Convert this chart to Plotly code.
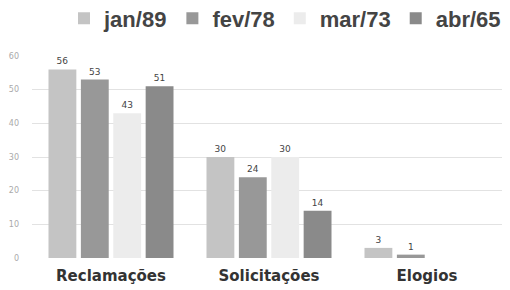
import plotly.graph_objects as go

categories = ["Reclamações", "Solicitações", "Elogios"]
series_names = ["jan/89", "fev/78", "mar/73", "abr/65"]
jan = [56, 30, 3]
fev = [53, 24, 1]
mar = [43, 30, 0]
abr = [51, 14, 0]
y_ticks = [0, 10, 20, 30, 40, 50, 60]

colors = ["#c4c4c4", "#989898", "#ececec", "#8a8a8a"]

fig = go.Figure()
for name, vals, col in zip(series_names, [jan, fev, mar, abr], colors):
    fig.add_trace(go.Bar(
        x=categories, y=vals, name=name,
        marker=dict(color=col, line=dict(width=0)),
        text=[str(v) if v else "" for v in vals],
        textposition="outside", cliponaxis=False,
        textfont=dict(size=9, color="#444", family="DejaVu Sans"),
    ))

# page body has an 8px margin, so the figure is sized/placed to compensate
fig.update_layout(
    width=502, height=282,
    margin=dict(l=24, r=4, t=48, b=32, autoexpand=False),
    paper_bgcolor="white", plot_bgcolor="white",
    barmode="group", bargap=0.18, bargroupgap=0.14,
    showlegend=True,
    legend=dict(orientation="h", x=1.0, xanchor="right", xref="paper",
                y=1.29, yanchor="top", yref="paper",
                font=dict(size=22, color="#444", family="Liberation Sans", weight="bold"),
                itemwidth=30, tracegroupgap=0, bgcolor="rgba(0,0,0,0)"),
    xaxis=dict(showgrid=False, showline=False, ticks="", automargin=False,
               tickfont=dict(size=15, color="#333", family="DejaVu Sans", weight="bold"),
               ticklabelstandoff=7),
    yaxis=dict(range=[0, 60], tickvals=y_ticks, showgrid=True, gridcolor="#e2e2e2",
               gridwidth=1, zeroline=False, showline=False, automargin=False,
               tickfont=dict(size=8, color="#aaaaaa", family="DejaVu Sans"),
               ticklabelstandoff=12),
)
fig.write_html("out.html")
